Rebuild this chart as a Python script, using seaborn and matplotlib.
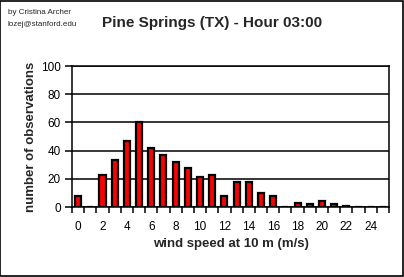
import matplotlib
matplotlib.use("Agg")
import matplotlib.pyplot as plt
import seaborn as sns
import pandas as pd
from matplotlib.patches import Rectangle

speeds = list(range(26))
counts = [8, 0, 23, 33, 47, 60, 42, 37, 32, 28, 21, 23, 8, 18, 18, 10, 8, 0, 3, 2, 4, 2, 1, 0, 0, 0]
xtick_labels = [str(v) for v in range(0, 25, 2)]
ytick_values = [0, 20, 40, 60, 80, 100]

sns.set_theme(style="white")
plt.rcParams['font.family'] = ['Liberation Sans', 'DejaVu Sans']

df = pd.DataFrame({"speed": speeds, "count": counts})

fig = plt.figure(figsize=(4.04, 2.77), dpi=100)
ax = fig.add_axes([72/404, 70/277, 317/404, 141/277])
sns.barplot(data=df, x="speed", y="count", ax=ax, color="#ff0000", saturation=1,
            width=0.5, edgecolor="black", linewidth=1.6, order=speeds)

ax.set_xlim(-0.5, 25.5)
ax.set_ylim(0, 100)
ax.set_yticks(ytick_values)
ax.yaxis.grid(True, color="black", linewidth=1.1)
ax.set_axisbelow(True)
for s in ax.spines.values():
    s.set_visible(True)
    s.set_color("black")
    s.set_linewidth(1.1)

ax.set_xticks(list(range(0, 25, 2)))
ax.set_xticklabels(xtick_labels)
ax.set_xticks([i - 0.5 for i in range(27)], minor=True)
ax.tick_params(axis="x", which="major", length=0, pad=10, labelsize=8.5, colors="black")
ax.tick_params(axis="x", which="minor", length=4, width=1.1, direction="out", color="black", bottom=True)
ax.tick_params(axis="y", which="major", length=5, width=1.1, direction="out", color="black", left=True,
               labelsize=8.5, pad=3, labelcolor="black")

ax.set_xlabel("wind speed at 10 m (m/s)", fontsize=9.5, fontweight="bold", labelpad=4)
ax.set_ylabel("number of observations", fontsize=9.5, fontweight="bold", labelpad=3)

fig.text(212/404, 1 - 23/277, "Pine Springs (TX) - Hour 03:00", ha="center", va="center",
         fontsize=11, fontweight="bold")
fig.text(8/404, 1 - 12/277, "by Cristina Archer", ha="left", va="center", fontsize=5.8)
fig.text(8/404, 1 - 25/277, "lozej@stanford.edu", ha="left", va="center", fontsize=5.8)

fig.patches.append(Rectangle((0.001, 0.002), 0.996, 0.995, transform=fig.transFigure,
                             fill=False, edgecolor="black", linewidth=1.2))

fig.savefig("out.png", dpi=100)
